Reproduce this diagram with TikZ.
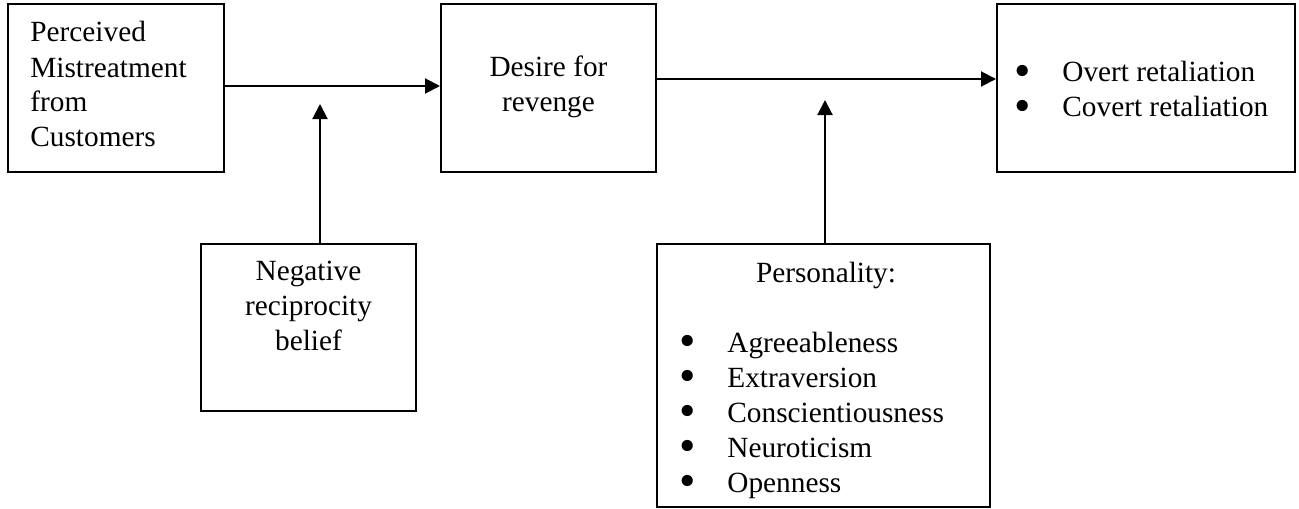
\documentclass[tikz,border=0pt]{standalone}
\usepackage{fontspec}
\setmainfont{Liberation Serif}
\usetikzlibrary{arrows.meta}
\tikzset{
  box/.style={draw, line width=1pt, inner sep=0pt},
  txt/.style={inner sep=0pt, font=\fontsize{14.65pt}{17.5pt}\selectfont},
  arr/.style={line width=1pt, -{Triangle[length=7.5pt,width=7.5pt]}}
}
\newcommand{\bul}[1]{\makebox[24pt][l]{\smash{\raisebox{-2.4pt}{\scalebox{1.6}{\textbullet}}}}#1}
\begin{document}
\begin{tikzpicture}[x=0.5pt,y=-0.5pt]
                \useasboundingbox (0,0) rectangle (1299,508);
                
                % Drawing box b1 (text anchored on its last line)
                \node [box, minimum width=108pt, minimum height=84pt] (b1) at (116,88) {};%
                \node [txt, anchor=base west, align=left] (t1) at (30,147) {Perceived\\Mistreatment\\from\\Customers};%
                
                % Drawing box b2
                \node [box, minimum width=107.5pt, minimum height=84pt] (b2) at (548.5,88) {};%
                \node [txt, anchor=base, align=center] (t2) at (548.5,112) {Desire for\\revenge};%
                
                % Drawing box b3
                \node [box, minimum width=149pt, minimum height=84pt] (b3) at (1146,88) {};%
                \node [txt, anchor=base west, align=left] (t3) at (1014,117) {\bul{Overt retaliation}\\\bul{Covert retaliation}};%
                
                % Drawing box b4
                \node [box, minimum width=107.5pt, minimum height=83.5pt] (b4) at (308.5,327.5) {};%
                \node [txt, anchor=base, align=center] (t4) at (308.5,350) {Negative\\reciprocity\\belief};%
                
                % Drawing box b5
                \node [box, minimum width=166.5pt, minimum height=131.5pt] (b5) at (823.5,375.5) {};%
                \node [txt, anchor=base] (t5) at (826,282) {Personality:};%
                \node [txt, anchor=base west, align=left] (t6) at (679,492) {\bul{Agreeableness}\\\bul{Extraversion}\\\bul{Conscientiousness}\\\bul{Neuroticism}\\\bul{Openness}};%
                
                % Arrow tips on the horizontal arrows
                \coordinate (p1) at (320,104);%
                \coordinate (p2) at (825,100);%
                
                % Drawing arrows b1 b2 and b2 b3
                \draw [arr] ([yshift=1pt]b1.east) -- ([yshift=1pt]b2.west);%
                \draw [arr] ([yshift=4.5pt]b2.east) -- ([yshift=4.5pt]b3.west);%
                
                % Drawing arrows b4 p1 and b5 p2
                \draw [arr] ([xshift=5.75pt]b4.north) -- (p1);%
                \draw [arr] ([xshift=0.75pt]b5.north) -- (p2);%
\end{tikzpicture}
\end{document}
